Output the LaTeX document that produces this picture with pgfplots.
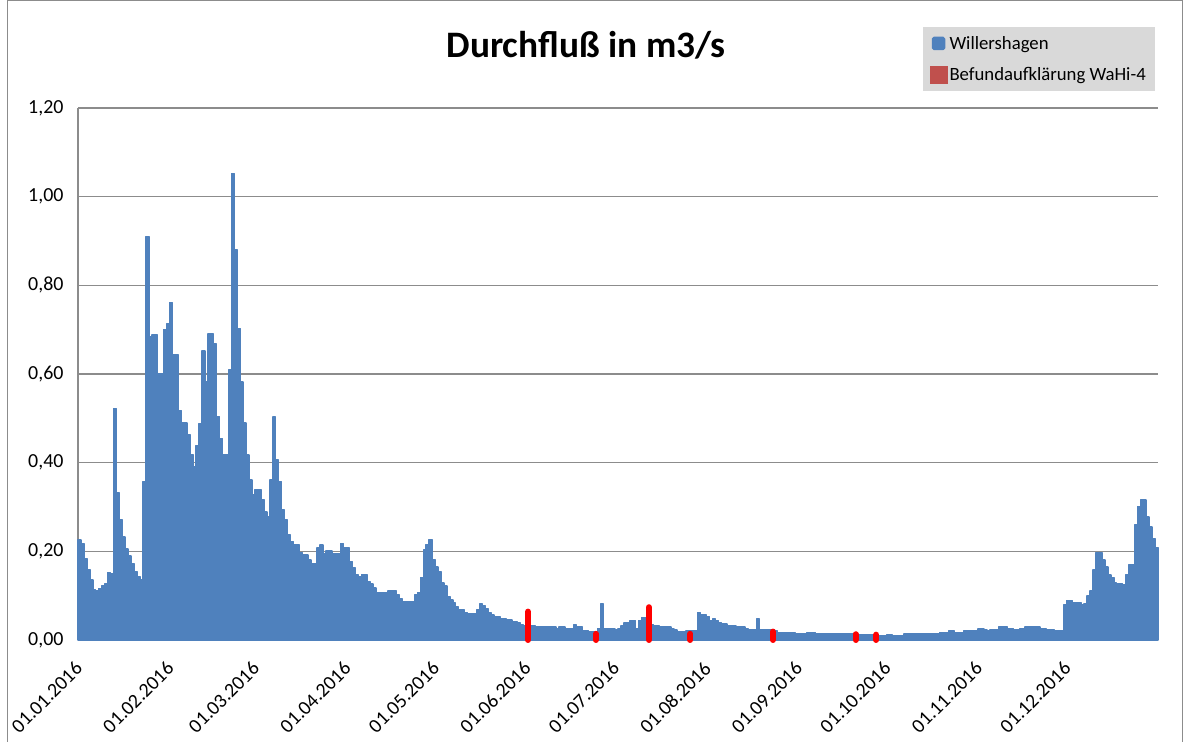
\documentclass[border=0pt]{standalone}
\usepackage{fontspec}
\setmainfont{Carlito}
\usepackage{pgfplots}
\usepackage{pgfplotstable}
\pgfplotsset{compat=1.18}
\definecolor{cBlue}{HTML}{4F81BD}
\definecolor{cRedLeg}{HTML}{C0504D}
\definecolor{cRed}{HTML}{FF0000}
\definecolor{cGrid}{HTML}{8C8C8C}
\definecolor{cLegBg}{HTML}{D9D9D9}

% Daily discharge 2016, Willershagen (m3/s), one value per day from 01.01. to 31.12.
\pgfplotstableread[row sep=\\]{q\\
0.226\\0.218\\0.184\\0.159\\0.135\\0.114\\0.110\\0.116\\0.122\\0.126\\0.152\\0.149\\0.522\\0.332\\0.271\\0.232\\0.205\\0.190\\0.172\\0.155\\0.143\\0.135\\
0.357\\0.910\\0.685\\0.688\\0.688\\0.600\\0.600\\0.700\\0.713\\0.761\\0.643\\0.643\\0.518\\0.490\\0.490\\0.463\\0.418\\0.391\\0.439\\0.488\\0.652\\0.582\\0.690\\0.690\\0.668\\0.504\\0.455\\0.418\\0.418\\0.609\\1.052\\
0.880\\0.703\\0.582\\0.489\\0.417\\0.361\\0.327\\0.340\\0.340\\0.317\\0.289\\0.278\\0.361\\0.503\\0.406\\0.357\\0.293\\0.271\\0.237\\0.222\\
0.214\\0.214\\0.197\\0.192\\0.192\\0.180\\0.173\\0.173\\0.207\\0.214\\0.195\\0.201\\0.201\\0.194\\0.194\\0.194\\0.218\\0.207\\0.207\\
0.177\\0.162\\0.147\\0.143\\0.148\\0.148\\0.132\\0.126\\0.117\\0.107\\0.107\\0.107\\0.107\\0.111\\0.111\\0.111\\0.101\\0.092\\0.086\\0.086\\0.086\\0.086\\
0.101\\0.107\\0.141\\0.203\\0.215\\0.227\\0.182\\0.165\\0.154\\0.129\\0.122\\
0.098\\0.090\\0.083\\0.074\\0.068\\0.068\\0.062\\0.059\\0.059\\0.059\\0.068\\0.081\\0.078\\0.071\\0.062\\0.056\\0.053\\0.053\\0.049\\0.049\\0.045\\0.045\\0.041\\0.041\\0.038\\0.034\\0.033\\
0.033\\0.032\\0.032\\0.030\\0.029\\0.029\\0.029\\0.029\\0.029\\0.029\\0.026\\0.029\\0.029\\0.026\\0.026\\0.026\\0.034\\0.029\\0.029\\0.021\\0.021\\0.019\\0.019\\0.019\\0.026\\0.081\\0.026\\0.025\\0.025\\0.025\\
0.022\\0.025\\0.032\\0.038\\0.038\\0.044\\0.044\\0.026\\0.044\\0.051\\0.051\\0.050\\0.035\\0.032\\0.032\\0.029\\0.029\\0.029\\0.029\\0.025\\0.022\\0.019\\0.019\\0.019\\0.020\\0.020\\0.020\\0.020\\0.062\\0.056\\0.056\\
0.053\\0.044\\0.047\\0.044\\0.039\\0.036\\0.036\\0.032\\0.032\\0.032\\0.029\\0.029\\0.029\\0.026\\0.023\\0.024\\0.024\\0.047\\0.024\\0.024\\0.024\\0.024\\0.024\\0.020\\
0.017\\0.017\\0.017\\0.017\\0.017\\0.017\\0.014\\0.014\\0.014\\0.014\\0.017\\0.017\\0.017\\0.014\\0.014\\0.014\\0.014\\0.014\\0.014\\0.014\\0.014\\0.014\\0.014\\0.014\\0.014\\0.014\\
0.012\\0.011\\0.011\\0.011\\0.011\\0.011\\0.011\\0.011\\0.009\\0.009\\0.009\\0.011\\0.011\\0.009\\0.009\\0.009\\0.009\\0.013\\0.013\\0.013\\0.013\\0.013\\0.013\\0.013\\0.013\\
0.013\\0.013\\0.013\\0.013\\0.017\\0.017\\0.017\\0.020\\0.020\\0.017\\0.017\\0.017\\0.020\\0.020\\0.020\\0.020\\0.020\\0.025\\0.025\\0.022\\0.020\\0.023\\0.023\\0.023\\0.029\\0.029\\0.029\\0.026\\0.026\\0.023\\0.023\\0.025\\0.026\\0.029\\0.029\\0.029\\0.029\\0.029\\0.026\\0.026\\0.023\\0.023\\0.023\\0.020\\0.020\\0.020\\
0.079\\0.089\\0.089\\0.084\\0.083\\0.083\\0.079\\0.081\\0.099\\0.110\\0.158\\0.197\\0.197\\0.180\\0.165\\0.147\\0.141\\0.129\\0.128\\0.128\\0.124\\0.147\\0.169\\0.169\\0.259\\0.301\\0.316\\0.316\\0.277\\0.255\\0.229\\0.209\\
}\flow

\begin{document}
\begin{tikzpicture}
\path[use as bounding box] (0,0) rectangle (1184bp,742bp);
\draw[cGrid, line width=1bp] (7bp,0bp) -- (7bp,741.5bp) -- (1182.5bp,741.5bp) -- (1182.5bp,0bp);
\begin{axis}[
  at={(78bp,102bp)}, anchor=south west,
  width=1080bp, height=532bp, scale only axis,
  xmin=0, xmax=366, ymin=0, ymax=1.2,
  clip=false,
  axis x line=bottom, axis y line=left,
  axis line style={-, cGrid, line width=1.3bp},
  ymajorgrids, grid style={cGrid, line width=1.3bp},
  major tick length=0pt,
  ytick={0,0.2,0.4,0.6,0.8,1.0,1.2},
  /pgf/number format/fixed, /pgf/number format/fixed zerofill,
  /pgf/number format/precision=2, /pgf/number format/use comma,
  /pgf/number format/assume math mode=true,
  yticklabel style={font=\fontsize{20}{24}\selectfont, xshift=-11bp},
  xtick={0,31,60,91,121,152,182,213,244,274,305,335},
  xticklabels={01.01.2016,01.02.2016,01.03.2016,01.04.2016,01.05.2016,01.06.2016,01.07.2016,01.08.2016,01.09.2016,01.10.2016,01.11.2016,01.12.2016},
  xticklabel style={font=\fontsize{20}{24}\selectfont, xshift=-4bp, yshift=-20bp, rotate=45, anchor=north east, inner sep=0pt},
  legend style={at={(0.9972,1.1523)}, anchor=north east, fill=cLegBg, draw=none,
    font=\fontsize{18.8}{22}\selectfont, row sep=13bp, inner xsep=7bp, inner ysep=7bp,
    legend cell align=left},
]
\addplot[ybar, bar width=1, bar shift=0pt, fill=cBlue, draw=cBlue, line width=1.5bp, line join=round,
  legend image code/.code={\fill[cBlue, rounded corners=1.5bp] (0bp,-6bp) rectangle (12bp,6bp);}]
  table[x expr=\coordindex+0.5, y=q] {\flow};
\addlegendentry{Willershagen}
\addplot[ycomb, cRed, line width=6bp, line cap=round, mark=none,
  legend image code/.code={\fill[cRedLeg] (0bp,-6bp) rectangle (12bp,6bp);}]
  coordinates {(152.5,0.064) (175.5,0.014) (193.5,0.074) (207.5,0.014) (235.5,0.019) (263.5,0.013) (270.5,0.012)};
\addlegendentry{Befundaufklärung WaHi-4}
\end{axis}
\node[font=\fontsize{37.5}{42}\selectfont\bfseries] at (586bp,697bp) {Durchfluß in m3/s};
\end{tikzpicture}
\end{document}
